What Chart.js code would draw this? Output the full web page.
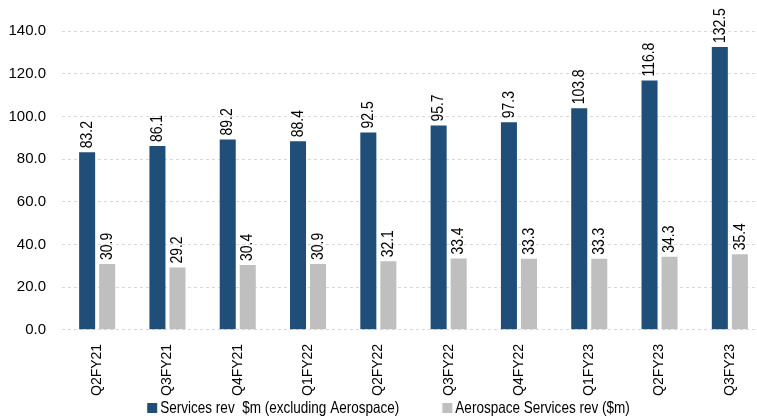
<!DOCTYPE html>
<html>
<head>
<meta charset="utf-8">
<script src="https://cdn.jsdelivr.net/npm/chart.js@4"></script>
<style>
    html, body { margin: 0; padding: 0; background: #ffffff; overflow: hidden; }
    #wrap { width: 765px; height: 419px; position: relative; }
</style>
</head>
<body>
<div id="wrap"><canvas id="revChart"></canvas></div>
<script>
// Quarterly revenue, $m
const quarters = ['Q2FY21', 'Q3FY21', 'Q4FY21', 'Q1FY22', 'Q2FY22', 'Q3FY22', 'Q4FY22', 'Q1FY23', 'Q2FY23', 'Q3FY23'];
const servicesRev = [83.2, 86.1, 89.2, 88.4, 92.5, 95.7, 97.3, 103.8, 116.8, 132.5];
const aeroRev = [30.9, 29.2, 30.4, 30.9, 32.1, 33.4, 33.3, 33.3, 34.3, 35.4];
const yTicks = [0, 20, 40, 60, 80, 100, 120, 140];

const colors = {
    services: '#1f4e79',
    aero: '#bfbfbf',
    grid: '#d9d9d9',
    text: '#000000'
};

const FONT = 'Arial, "Liberation Sans", sans-serif';
const NARROW = 0.82; // horizontal squeeze to get a narrow face

// Vertical value labels sitting on top of each bar
const barValueLabels = {
    id: 'barValueLabels',
    afterDraw(chart) {
        const ctx = chart.ctx;
        chart.data.datasets.forEach((ds, i) => {
            chart.getDatasetMeta(i).data.forEach((bar, j) => {
                ctx.save();
                ctx.font = '17px ' + FONT;
                ctx.fillStyle = colors.text;
                ctx.textAlign = 'left';
                ctx.textBaseline = 'middle';
                ctx.translate(bar.x, bar.y - 4);
                ctx.rotate(-Math.PI / 2);
                ctx.scale(NARROW, 1);
                ctx.fillText(ds.data[j].toFixed(1), 0, 0);
                ctx.restore();
            });
        });
    }
};

// Legend along the bottom edge
const bottomLegend = {
    id: 'bottomLegend',
    afterDraw(chart) {
        const ctx = chart.ctx;
        const box = 10, textGap = 3, itemGap = 43, y = 408;
        ctx.save();
        ctx.font = '16.5px ' + FONT;
        const items = chart.data.datasets.map(ds => ({
            label: ds.label,
            color: ds.backgroundColor,
            w: ctx.measureText(ds.label).width * NARROW
        }));
        const total = items.reduce((s, it) => s + box + textGap + it.w, 0) + itemGap * (items.length - 1);
        let x = chart.width / 2 + 6 - total / 2;
        items.forEach(it => {
            ctx.fillStyle = it.color;
            ctx.fillRect(x, y - box / 2, box, box);
            x += box + textGap;
            ctx.save();
            ctx.translate(x, y);
            ctx.scale(NARROW, 1);
            ctx.fillStyle = colors.text;
            ctx.textAlign = 'left';
            ctx.textBaseline = 'middle';
            ctx.fillText(it.label, 0, 0);
            ctx.restore();
            x += it.w + itemGap;
        });
        ctx.restore();
    }
};

new Chart(document.getElementById('revChart'), {
    type: 'bar',
    data: {
        labels: quarters,
        datasets: [
            {
                label: 'Services rev  $m (excluding Aerospace)',
                data: servicesRev,
                backgroundColor: colors.services,
                categoryPercentage: 0.57,
                barPercentage: 0.8
            },
            {
                label: 'Aerospace Services rev ($m)',
                data: aeroRev,
                backgroundColor: colors.aero,
                categoryPercentage: 0.57,
                barPercentage: 0.8
            }
        ]
    },
    options: {
        responsive: true,
        maintainAspectRatio: false,
        animation: false,
        layout: { padding: { top: 31, right: 0, bottom: 9, left: 0 } },
        plugins: {
            legend: { display: false },
            tooltip: { enabled: false }
        },
        scales: {
            x: {
                grid: { display: false, drawTicks: false },
                border: { display: false },
                ticks: {
                    color: colors.text,
                    font: { size: 14, family: FONT },
                    minRotation: 90,
                    maxRotation: 90,
                    padding: 14
                }
            },
            y: {
                min: 0,
                max: 140,
                afterFit(scale) { scale.width = 62; },
                afterBuildTicks(scale) { scale.ticks = yTicks.map(v => ({ value: v })); },
                grid: { color: colors.grid, drawTicks: false },
                border: { display: false, dash: [3, 3] },
                ticks: {
                    color: colors.text,
                    font: { size: 15, family: FONT },
                    padding: 16,
                    callback: v => v.toFixed(1)
                }
            }
        }
    },
    plugins: [barValueLabels, bottomLegend]
});
</script>
</body>
</html>
